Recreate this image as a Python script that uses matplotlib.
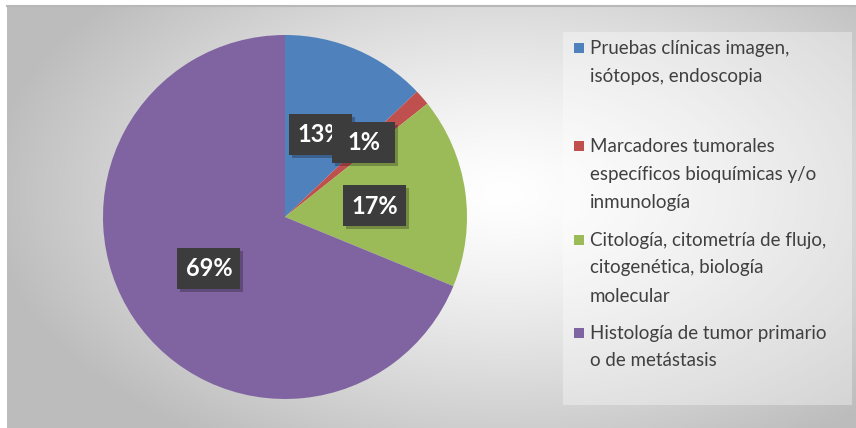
import numpy as np
import matplotlib
matplotlib.use("Agg")
import matplotlib.pyplot as plt
from matplotlib.patches import Rectangle
import matplotlib.patheffects as pe

# ---- data ----
categories = [
    "Pruebas clínicas imagen,\nisótopos, endoscopia",
    "Marcadores tumorales\nespecíficos bioquímicas y/o\ninmunología",
    "Citología, citometría de flujo,\ncitogenética, biología\nmolecular",
    "Histología de tumor primario\no de metástasis",
]
values = [12.9, 1.4, 16.9, 68.8]
colors = ["#4f81bd", "#c0504d", "#9bbb59", "#8064a2"]

W, H = 856, 428
fig = plt.figure(figsize=(W / 100, H / 100), dpi=100)
fig.patch.set_facecolor("white")

# background with radial gradient
bg = fig.add_axes([0, 0, 1, 1])
bg.set_xlim(0, W)
bg.set_ylim(H, 0)
bg.axis("off")
yy, xx = np.mgrid[0:H, 0:W]
cx, cy = 500, 190
r = np.sqrt(((xx - cx) / 520.0) ** 2 + ((yy - cy) / 300.0) ** 2)
r = np.clip(r, 0, 1)
g = 1.0 - 0.26 * r ** 1.3
img = np.dstack([g, g, g])
bg.imshow(img, extent=(7, W, H, 5), aspect="auto", zorder=0)
bg.plot([7, W], [5.5, 5.5], color="#b8b8b8", lw=1.5, zorder=1)
# legend box overlay
bg.add_patch(Rectangle((563, 32), 289, 373, facecolor="white", alpha=0.35,
                       edgecolor="none", zorder=1))

# pie
cxp, cyp, R = 285, 217, 182
ax = fig.add_axes([(cxp - R) / W, 1 - (cyp + R) / H, 2 * R / W, 2 * R / H])
ax.pie(values, colors=colors, startangle=90, counterclock=False, radius=1,
       wedgeprops=dict(linewidth=0))
ax.set_xlim(-1, 1)
ax.set_ylim(-1, 1)
ax.set_aspect("auto")
ax.axis("off")

# data labels (box layer drawn in pixel coords on top of pie)
top = fig.add_axes([0, 0, 1, 1], zorder=5)
top.set_xlim(0, W)
top.set_ylim(H, 0)
top.axis("off")
top.patch.set_alpha(0)
label_pos = [(321, 134), (364, 142), (375, 205), (209, 268)]
bw, bh = 63, 41
for k, (v, (px, py)) in enumerate(zip(values, label_pos)):
    txt = f"{round(v):d}%"
    shadow = Rectangle((px - bw / 2 + 3, py - bh / 2 + 3), bw, bh,
                       facecolor="black", alpha=0.25, edgecolor="none",
                       zorder=1 + 3 * k)
    top.add_patch(shadow)
    box = Rectangle((px - bw / 2, py - bh / 2), bw, bh, facecolor="#3c3c3c",
                    edgecolor="none", zorder=2 + 3 * k)
    top.add_patch(box)
    top.text(px, py + 1, txt, ha="center", va="center",
             fontsize=17, fontweight="bold", color="white", family="Lato",
             zorder=3 + 3 * k)

# legend (manual, Excel-like spacing)
legend_tops = [48, 146, 240, 333]
line_h = 28
for lab, col, ty in zip(categories, colors, legend_tops):
    bg.add_patch(Rectangle((574, ty - 5), 10, 10, facecolor=col,
                           edgecolor="none", zorder=3))
    for i, line in enumerate(lab.split("\n")):
        bg.text(590, ty + i * line_h, line, ha="left", va="center",
                fontsize=13.5, color="#404040", family="Lato", zorder=3)

fig.savefig("out.png", dpi=100)
